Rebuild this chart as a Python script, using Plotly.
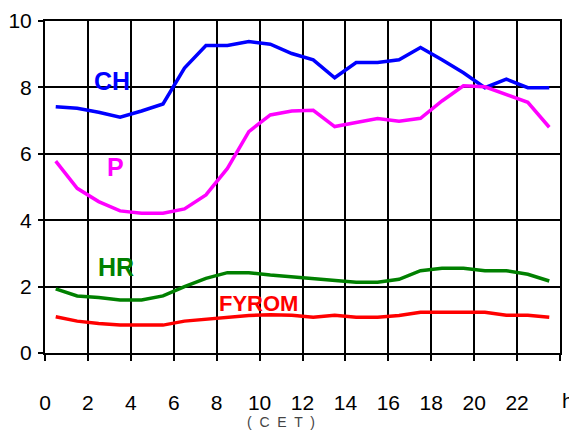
import plotly.graph_objects as go

hours = [0.5, 1.5, 2.5, 3.5, 4.5, 5.5, 6.5, 7.5, 8.5, 9.5, 10.5, 11.5,
         12.5, 13.5, 14.5, 15.5, 16.5, 17.5, 18.5, 19.5, 20.5, 21.5, 22.5, 23.5]

ch = [7.42, 7.37, 7.25, 7.10, 7.29, 7.50, 8.58, 9.26, 9.26, 9.38, 9.30, 9.02,
      8.83, 8.29, 8.75, 8.75, 8.83, 9.20, 8.83, 8.44, 7.99, 8.25, 7.99, 7.99]
p = [5.78, 4.96, 4.56, 4.28, 4.21, 4.21, 4.34, 4.76, 5.56, 6.67, 7.17, 7.29,
     7.31, 6.82, 6.94, 7.06, 6.98, 7.07, 7.59, 8.05, 8.02, 7.79, 7.55, 6.80]
hr = [1.93, 1.72, 1.67, 1.60, 1.60, 1.72, 2.00, 2.25, 2.42, 2.42, 2.35, 2.29,
      2.25, 2.18, 2.13, 2.13, 2.22, 2.48, 2.55, 2.55, 2.48, 2.48, 2.37, 2.17]
fyrom = [1.09, 0.96, 0.89, 0.84, 0.84, 0.84, 0.96, 1.02, 1.09, 1.13, 1.15, 1.14,
         1.08, 1.14, 1.08, 1.08, 1.13, 1.23, 1.23, 1.23, 1.23, 1.14, 1.14, 1.08]

series_names = ["CH", "P", "HR", "FYROM"]
series_colors = ["#0000FF", "#FF00FF", "#008000", "#FF0000"]
label_x = [3.1, 3.3, 3.3, 9.95]
label_y = [8.2, 5.6, 2.6, 1.5]
label_size = [25, 25, 25, 22]

x_tickvals = [0, 2, 4, 6, 8, 10, 12, 14, 16, 18, 20, 22, 24]
x_ticktext = ["0", "2", "4", "6", "8", "10", "12", "14", "16", "18", "20", "22", ""]
y_tickvals = [0, 2, 4, 6, 8, 10]

fig = go.Figure()
for name, ys, col in zip(series_names, [ch, p, hr, fyrom], series_colors):
    fig.add_trace(go.Scatter(x=hours, y=ys, mode="lines", name=name,
                             line=dict(color=col, width=3.5), showlegend=False))

for name, col, lx, ly, sz in zip(series_names, series_colors, label_x, label_y, label_size):
    fig.add_annotation(x=lx, y=ly, text="<b>%s</b>" % name, showarrow=False,
                       font=dict(family="Liberation Sans, Arial", size=sz, color=col))

fig.add_annotation(xref="paper", yref="paper", x=1.0, y=0, xshift=8, yshift=-47,
                   xanchor="center", yanchor="middle",
                   text="h", showarrow=False,
                   font=dict(family="Liberation Sans, Arial", size=21, color="black"))
fig.add_annotation(xref="paper", yref="paper", x=0.459, y=0, yshift=-69,
                   xanchor="center", yanchor="middle",
                   text="(  C  E  T  )", showarrow=False,
                   font=dict(family="Liberation Sans, Arial", size=14, color="#444444"))

axis_common = dict(showgrid=True, gridcolor="black", gridwidth=2,
                   showline=True, linecolor="black", linewidth=2, mirror=True,
                   ticks="outside", tickcolor="black", tickwidth=2,
                   zeroline=False, automargin=False,
                   tickfont=dict(family="Liberation Sans, Arial", size=21, color="black"))

fig.update_xaxes(range=[0, 24], tickvals=x_tickvals, ticktext=x_ticktext,
                 ticklen=6, ticklabelstandoff=24, **axis_common)
fig.update_yaxes(range=[0, 10], tickvals=y_tickvals, ticklen=5,
                 ticklabelstandoff=2, **axis_common)

# page body has an 8px default margin; compensate so the plot lands where the reference has it
fig.update_layout(width=569, height=427,
                  margin=dict(l=37, r=17, t=13, b=82),
                  plot_bgcolor="white", paper_bgcolor="white")

fig.write_html("out.html")
